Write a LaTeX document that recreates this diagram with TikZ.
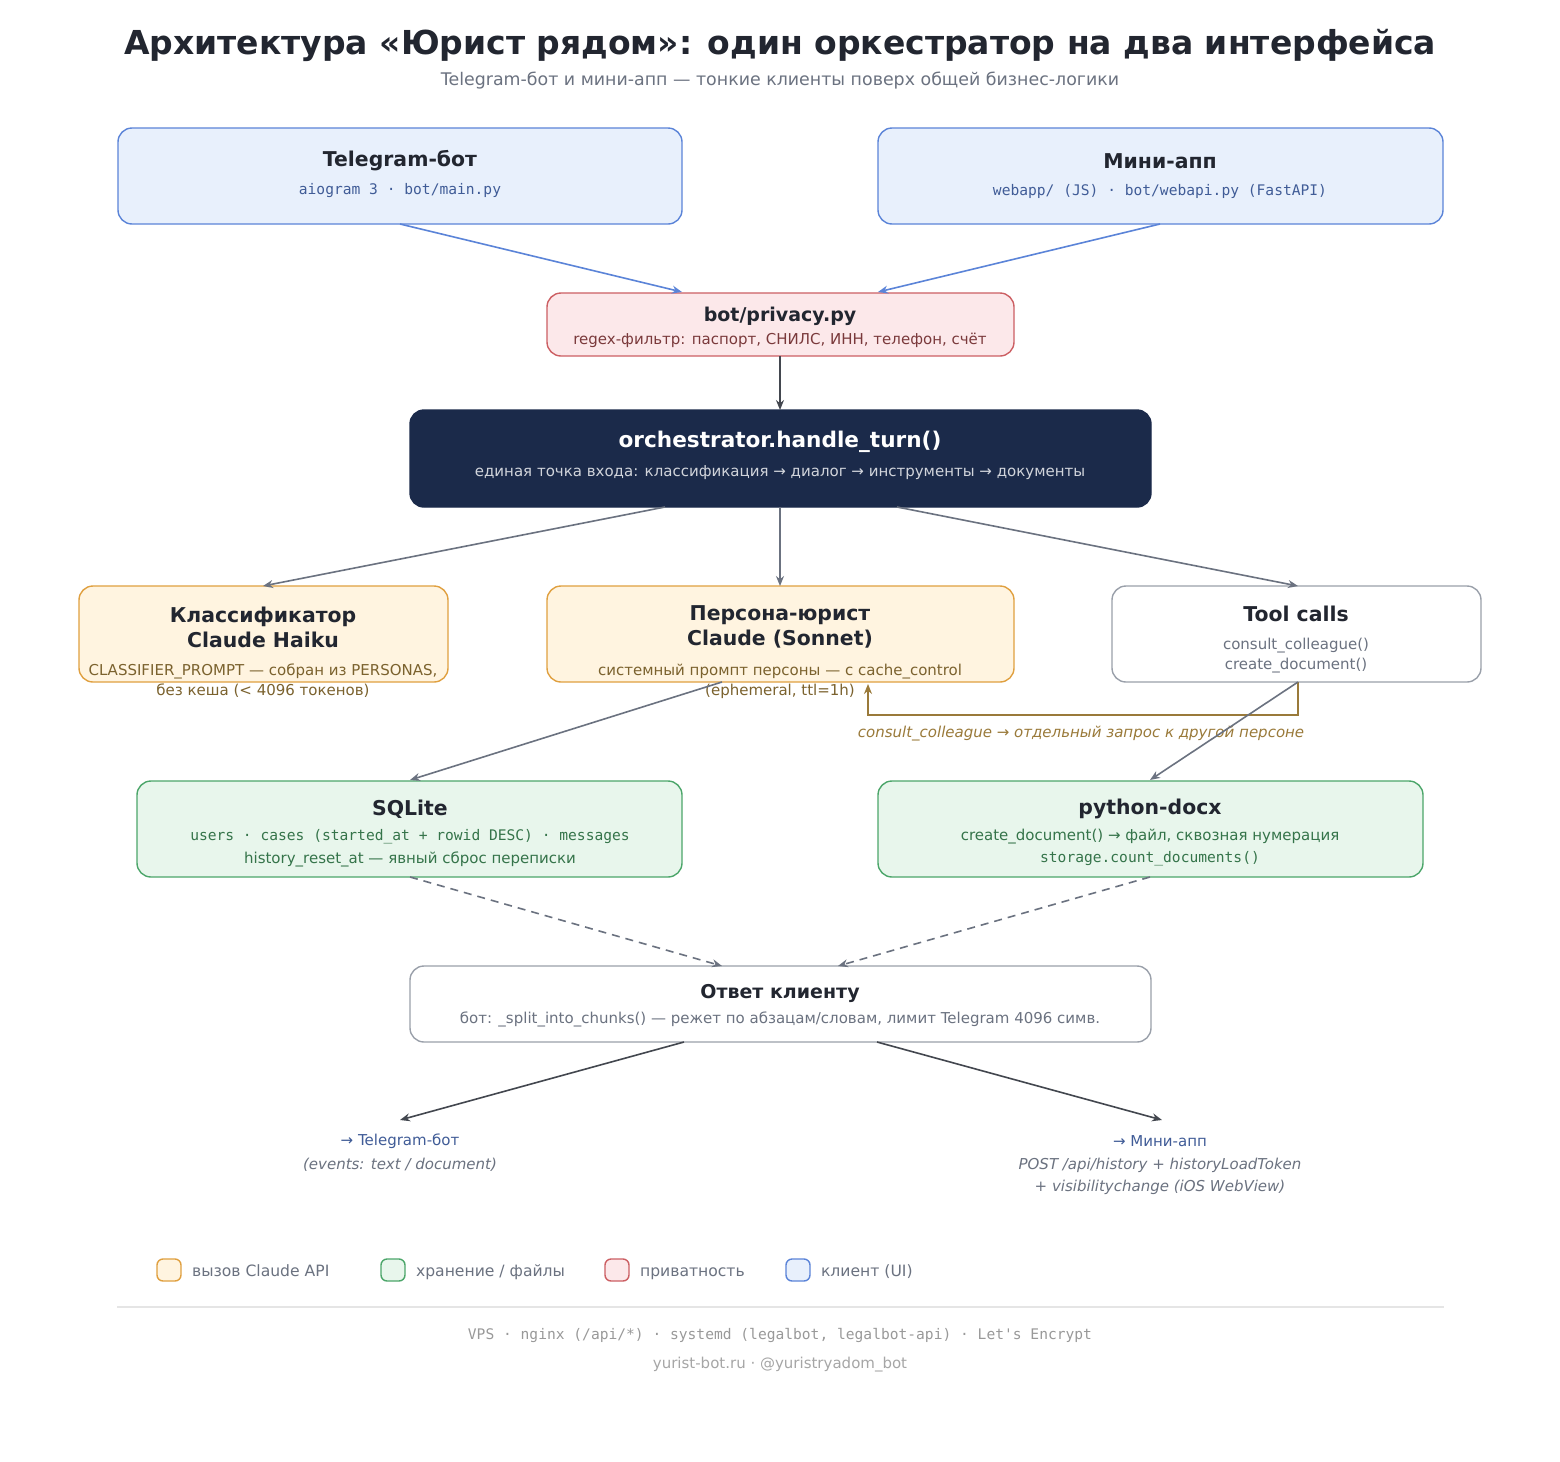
\documentclass[tikz,border=0pt]{standalone}
\usepackage{fontspec}
\setmainfont{DejaVu Sans}
\setmonofont{DejaVu Sans Mono}
\usetikzlibrary{arrows.meta}
\definecolor{ink}{HTML}{222630}
\definecolor{sub}{HTML}{6B7280}
\definecolor{bluef}{HTML}{E8F0FC}\definecolor{blued}{HTML}{5B84D8}
\definecolor{redf}{HTML}{FCE8EA}\definecolor{redd}{HTML}{CC5F63}
\definecolor{orf}{HTML}{FFF4E0}\definecolor{ord}{HTML}{E0A040}
\definecolor{grf}{HTML}{E8F6EC}\definecolor{grd}{HTML}{4CA66A}
\definecolor{gyd}{HTML}{9AA0AA}
\definecolor{navy}{HTML}{1B2A4A}
\definecolor{brn}{HTML}{9A7A3A}
\definecolor{edge}{HTML}{6B7280}
\begin{document}
\begin{tikzpicture}[x=0.5pt,y=-0.5pt,
 box/.style={rounded corners=7pt,line width=0.7pt},
 ttl/.style={font=\bfseries\fontsize{10.2}{12.5}\selectfont,text=ink,align=center},
 txt/.style={font=\fontsize{7.5}{10}\selectfont,align=center},
 mono/.style={font=\ttfamily\fontsize{7.3}{9}\selectfont,align=center},
 arr/.style={-{Stealth[length=5pt,width=4pt]},line width=0.8pt,draw=edge},
 dasharr/.style={arr,dash pattern=on 4pt off 3pt}]
\useasboundingbox (0,0) rectangle (1560,1462);
\fill[white] (0,0) rectangle (1560,1462);
\node (title) at (780,45) {\bfseries\fontsize{16.5}{19}\selectfont\color{ink}Архитектура «Юрист рядом»: один оркестратор на два интерфейса};
\node[txt,text=sub,font=\fontsize{8.7}{10}\selectfont] (subt) at (780,81) {Telegram-бот и мини-апп — тонкие клиенты поверх общей бизнес-логики};
% boxes
\draw[box,fill=bluef,draw=blued] (118,128) rectangle (682,224); \coordinate (tg) at (400,224);
\node[ttl] (tgt) at (400,161) {Telegram-бот};
\node[mono,text=blued!70!black] (tgs) at (400,191) {aiogram 3 · bot/main.py};
\draw[box,fill=bluef,draw=blued] (878,128) rectangle (1443,224); \coordinate (ma) at (1160,224);
\node[ttl] (mat) at (1160,161) {Мини-апп};
\node[mono,text=blued!70!black] (mas) at (1160,191) {webapp/ (JS) · bot/webapi.py (FastAPI)};
\draw[box,fill=redf,draw=redd] (547,293) rectangle (1014,356);
\coordinate (prT1) at (682,292); \coordinate (prT2) at (878,292); \coordinate (prB) at (780,356);
\node[ttl,font=\bfseries\fontsize{9.5}{12}\selectfont] (prt) at (780,316) {bot/privacy.py};
\node[txt,text=redd!60!black] (prs) at (780,340) {regex-фильтр: паспорт, СНИЛС, ИНН, телефон, счёт};
\draw[box,fill=navy,draw=navy] (410,410) rectangle (1151,507);
\coordinate (orT) at (780,410);
\coordinate (orB1) at (665,507);\coordinate (orB2) at (780,507);\coordinate (orB3) at (897,507);
\node[ttl,text=white,font=\bfseries\fontsize{10.8}{13}\selectfont] (ort) at (780,442) {orchestrator.handle\_turn()};
\node[txt,text=white!80!navy] (ors) at (780,473) {единая точка входа: классификация → диалог → инструменты → документы};
\draw[box,fill=orf,draw=ord] (79,586) rectangle (448,682); \coordinate (clT) at (263,586);
\node[ttl] (clt) at (263,627) {Классификатор\\Claude Haiku};
\node[txt,text=brn!80!black] (cls) at (263,681) {CLASSIFIER\_PROMPT — собран из PERSONAS,\\без кеша (< 4096 токенов)};
\draw[box,fill=orf,draw=ord] (547,586) rectangle (1014,682); \coordinate (peT) at (780,586); \coordinate (peB) at (722,682);
\node[ttl] (pet) at (780,627) {Персона-юрист\\Claude (Sonnet)};
\node[txt,text=brn!80!black] (pes) at (780,681) {системный промпт персоны — с cache\_control\\(ephemeral, ttl=1h)};
\draw[box,fill=white,draw=gyd] (1112,586) rectangle (1481,682); \coordinate (toT) at (1298,586); \coordinate (toB) at (1298,682);
\node[ttl] (tot) at (1296,614) {Tool calls};
\node[txt,text=sub] (tos) at (1296,656) {consult\_colleague()\\create\_document()};
\coordinate (fb) at (868,684);
\draw[brn,line width=0.8pt,-{Stealth[length=5pt,width=4pt]}] (toB) |- (868,715) -- (fb);
\node[txt,text=brn,font=\itshape\fontsize{7.5}{10}\selectfont] (fbl) at (1081,734) {consult\_colleague → отдельный запрос к другой персоне};
\draw[box,fill=grf,draw=grd] (137,781) rectangle (682,877); \coordinate (sqT) at (410,780); \coordinate (sqB) at (410,877);
\node[ttl] (sqt) at (410,809) {SQLite};
\node[mono,text=grd!70!black] (sqs) at (410,837) {users · cases (started\_at + rowid DESC) · messages};
\node[txt,text=grd!70!black] (sqs2) at (410,859) {history\_reset\_at — явный сброс переписки};
\draw[box,fill=grf,draw=grd] (878,781) rectangle (1423,877); \coordinate (dxT) at (1150,780); \coordinate (dxB) at (1150,877);
\node[ttl] (dxt) at (1150,809) {python-docx};
\node[txt,text=grd!70!black] (dxs) at (1150,837) {create\_document() → файл, сквозная нумерация};
\node[mono,text=grd!70!black] (dxs2) at (1150,859) {storage.count\_documents()};
\draw[box,fill=white,draw=gyd] (410,966) rectangle (1151,1042);
\coordinate (anT1) at (722,966);\coordinate (anT2) at (838,966);\coordinate (anB1) at (684,1042);\coordinate (anB2) at (877,1042);
\node[ttl,font=\bfseries\fontsize{9.5}{12}\selectfont] (ant) at (780,993) {Ответ клиенту};
\node[txt,text=sub] (ans) at (780,1019) {бот: \_split\_into\_chunks() — режет по абзацам/словам, лимит Telegram 4096 симв.};
% arrows
\draw[arr,draw=blued] (tg) -- (prT1);
\draw[arr,draw=blued] (ma) -- (prT2);
\draw[arr,draw=ink!85] (prB) -- (orT);
\draw[arr] (orB1) -- (clT);
\draw[arr] (orB2) -- (peT);
\draw[arr] (orB3) -- (toT);
\draw[arr] (peB) -- (sqT);
\draw[arr] (toB) -- (dxT);
\draw[dasharr] (sqB) -- (anT1);
\draw[dasharr] (dxB) -- (anT2);
\coordinate (o1) at (400,1120); \coordinate (o2) at (1162,1120);
\draw[arr,draw=ink!85] (anB1) -- (o1);
\draw[arr,draw=ink!85] (anB2) -- (o2);
\node[txt,text=blued!70!black] (o1t) at (400,1141) {→ Telegram-бот};
\node[txt,text=sub,font=\itshape\fontsize{7.5}{10}\selectfont] (o1s) at (400,1165) {(events: text / document)};
\node[txt,text=blued!70!black] (o2t) at (1160,1141) {→ Мини-апп};
\node[txt,text=sub,font=\itshape\fontsize{7.5}{11}\selectfont] (o2s) at (1160,1176) {POST /api/history + historyLoadToken\\+ visibilitychange (iOS WebView)};
% legend
\foreach \x/\f/\d/\t in {157/orf/ord/{вызов Claude API},381/grf/grd/{хранение / файлы},605/redf/redd/{приватность},786/bluef/blued/{клиент (UI)}}{
 \draw[fill=\f,draw=\d,rounded corners=3pt,line width=0.7pt] (\x,1259) rectangle ++(24,22);
 \node[txt,text=sub,anchor=base west,font=\fontsize{7.8}{10}\selectfont] at (\x+28,1276) {\t};}
\draw[gray!20,line width=0.7pt] (117,1307) -- (1444,1307);
\node[mono,text=gray!80] (f1) at (780,1335) {VPS · nginx (/api/*) · systemd (legalbot, legalbot-api) · Let's Encrypt};
\node[txt,text=gray!70] (f2) at (780,1365) {yurist-bot.ru · @yuristryadom\_bot};
\end{tikzpicture}
\end{document}
